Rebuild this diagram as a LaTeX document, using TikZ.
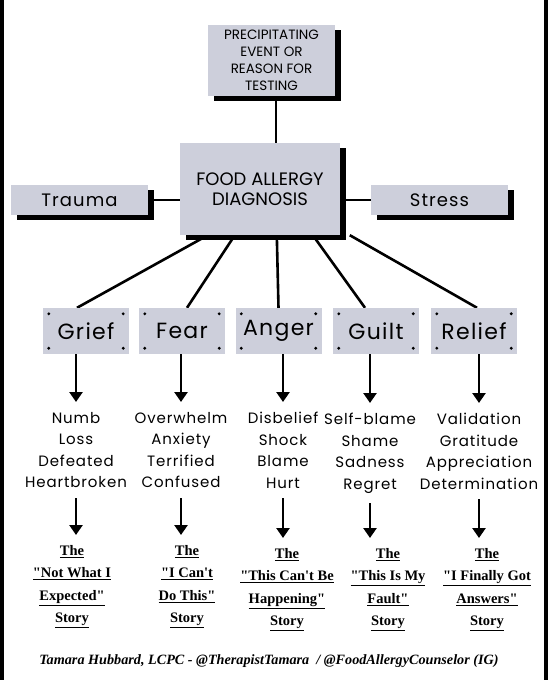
\documentclass[tikz,border=0pt]{standalone}
\usepackage{fontspec}
\usepackage{tikz}
\usetikzlibrary{positioning,shadows,arrows.meta,backgrounds}
\newfontfamily\capsfont{Poppins}
\newfontfamily\handfont{Poppins}[LetterSpace=6]
\newfontfamily\talefont{Liberation Serif}
\definecolor{boxgray}{RGB}{205,207,219}
\tikzstyle{shadowbox} = [fill=boxgray, rectangle, inner sep=0pt, drop shadow={fill=black, opacity=1, shadow xshift=6pt, shadow yshift=-5pt}]
\tikzstyle{feelbox} = [fill=boxgray, rectangle, minimum width=86pt, minimum height=46pt, font=\handfont\fontsize{22}{24}\selectfont]
\tikzstyle{wordlist} = [align=center, inner xsep=0pt, inner ysep=10pt, anchor=north, font=\handfont\fontsize{15}{21.5}\selectfont]
\tikzstyle{tale} = [align=center, inner xsep=0pt, inner ysep=10pt, anchor=north, font=\talefont\bfseries\fontsize{14.5}{22.5}\selectfont]
\tikzstyle{link} = [line width=2.6pt]
\tikzstyle{pointer} = [line width=2.6pt, -{Triangle[width=13pt,length=10pt]}]

\begin{document}
\begin{tikzpicture}[x=1pt, y=-1pt]
\useasboundingbox (0,0) rectangle (548,680);
\draw[line width=4pt] (2,0) -- (2,680);
\draw[line width=4pt] (545.5,0) -- (545.5,680);

% top of the chart
\node[shadowbox, minimum width=127pt, minimum height=71pt, align=center, font=\capsfont\fontsize{13.5}{17}\selectfont] (trigger) at (271.5,60.5) {PRECIPITATING\\EVENT OR\\REASON FOR\\TESTING};
\node[shadowbox, minimum width=160pt, minimum height=92pt, align=center, font=\capsfont\fontsize{18}{20.5}\selectfont] (diag) at (260,189) {FOOD ALLERGY\\DIAGNOSIS};
\node[shadowbox, minimum width=137pt, minimum height=30pt, font=\handfont\fontsize{18}{20}\selectfont] (trauma) at (79.5,200) {Trauma};
\node[shadowbox, minimum width=137pt, minimum height=30pt, font=\handfont\fontsize{18}{20}\selectfont] (stress) at (439.5,200) {Stress};

% feelings
\node[feelbox] (grief) at (86,331) {Grief};
\node[feelbox] (fear) at (182,331) {Fear};
\node[feelbox] (anger) at (278.5,331) {Anger};
\node[feelbox] (guilt) at (376,331) {Guilt};
\node[feelbox] (relief) at (474,331) {Relief};
\foreach \e in {grief,fear,anger,guilt,relief} {
  \fill ([shift={(6,6)}]\e.north west) circle (1.6pt);
  \fill ([shift={(-6,6)}]\e.north east) circle (1.6pt);
  \fill ([shift={(6,-6)}]\e.south west) circle (1.6pt);
  \fill ([shift={(-6,-6)}]\e.south east) circle (1.6pt);
}

% words
\node[wordlist] (griefwords) at (76,402) {Numb\\Loss\\Defeated\\Heartbroken};
\node[wordlist] (fearwords) at (181,402) {Overwhelm\\Anxiety\\Terrified\\Confused};
\node[wordlist] (angerwords) at (283,402) {Disbelief\\Shock\\Blame\\Hurt};
\node[wordlist] (guiltwords) at (370,403) {Self-blame\\Shame\\Sadness\\Regret};
\node[wordlist] (reliefwords) at (479,403) {Validation\\Gratitude\\Appreciation\\Determination};

% stories
\node[tale] (griefstory) at (72,535) {\underline{The}\\\underline{"Not What I}\\\underline{Expected"}\\\underline{Story}};
\node[tale] (fearstory) at (187,535) {\underline{The}\\\underline{"I Can\textquotesingle t}\\\underline{Do This"}\\\underline{Story}};
\node[tale] (angerstory) at (287,538) {\underline{The}\\\underline{"This Can\textquotesingle t Be}\\\underline{Happening"}\\\underline{Story}};
\node[tale] (guiltstory) at (388,538) {\underline{The}\\\underline{"This Is My}\\\underline{Fault"}\\\underline{Story}};
\node[tale] (reliefstory) at (487,538) {\underline{The}\\\underline{"I Finally Got}\\\underline{Answers"}\\\underline{Story}};

\node[font=\talefont\bfseries\itshape\fontsize{14.2}{16}\selectfont] (credit) at (269,661) {Tamara Hubbard, LCPC - @TherapistTamara \ / @FoodAllergyCounselor (IG)};

% connectors
\begin{scope}[on background layer]
\draw[link] ([xshift=4.5pt]trigger.south) -- ([xshift=4.5pt]trigger.south |- diag.north);
\draw[link] (trauma) -- (trauma -| diag);
\draw[link] (stress) -- (stress -| diag);
\draw[link] ([xshift=28pt]diag.south west) -- ([xshift=-9pt]grief.north);
\draw[link] ([xshift=55pt]diag.south west) -- ([xshift=5pt]fear.north);
\draw[link] ([xshift=97pt]diag.south west) -- (anger.north);
\draw[link] ([xshift=133pt]diag.south west) -- ([xshift=-11pt]guilt.north);
\draw[link] ([xshift=170pt]diag.south west) -- ([xshift=3pt]relief.north);
\end{scope}

\draw[pointer] (grief.south -| griefwords.north) -- (griefwords.north);
\draw[pointer] (fear.south -| fearwords.north) -- (fearwords.north);
\draw[pointer] (anger.south -| angerwords.north) -- (angerwords.north);
\draw[pointer] (guilt.south -| guiltwords.north) -- (guiltwords.north);
\draw[pointer] (relief.south -| reliefwords.north) -- (reliefwords.north);

\draw[pointer] (griefwords.south) -- (griefwords.south |- griefstory.north);
\draw[pointer] (fearwords.south) -- (fearwords.south |- fearstory.north);
\draw[pointer] (angerwords.south) -- (angerwords.south |- angerstory.north);
\draw[pointer] (guiltwords.south) -- (guiltwords.south |- guiltstory.north);
\draw[pointer] (reliefwords.south) -- (reliefwords.south |- reliefstory.north);
\end{tikzpicture}
\end{document}
